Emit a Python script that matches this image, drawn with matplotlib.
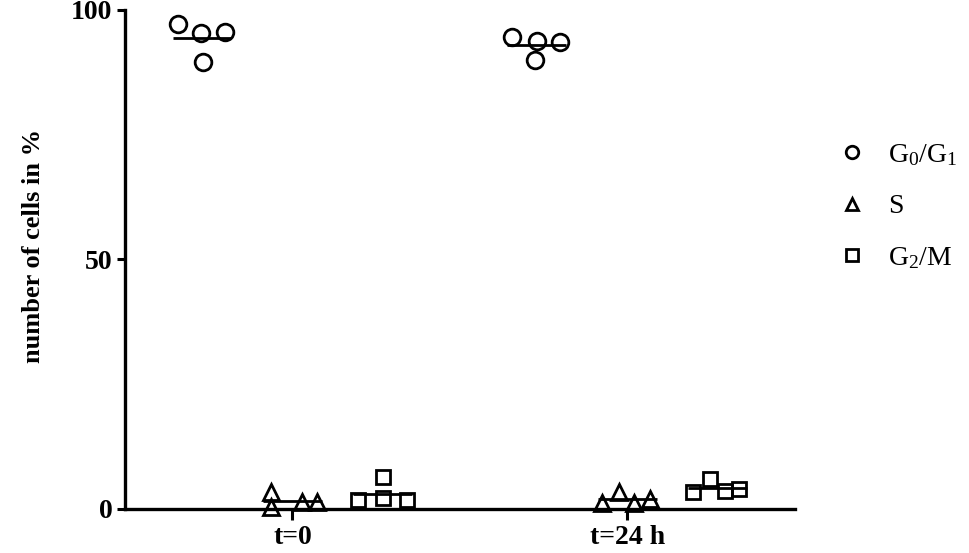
import matplotlib
matplotlib.use("Agg")
import matplotlib.pyplot as plt
from matplotlib.lines import Line2D
import numpy as np

# Data (percent of cells)
time_labels = ["t=0", "t=24 h"]
phase_labels = [r"G$_0$/G$_1$", "S", r"G$_2$/M"]
phase_markers = ["o", "^", "s"]

g0g1_t0 = [97.2, 95.4, 89.6, 95.6]
s_t0 = [3.4, 0.4, 1.4, 1.4]
g2m_t0 = [1.8, 6.4, 2.2, 1.8]
g0g1_t24 = [94.6, 93.8, 90.0, 93.6]
s_t24 = [1.2, 3.4, 1.2, 2.0]
g2m_t24 = [3.4, 6.0, 3.6, 4.0]

# horizontal spread of the points inside each column (layout only)
spread_g0g1_t0 = [-0.071, -0.003, 0.003, 0.068]
spread_s_t0 = [-0.065, -0.065, 0.030, 0.074]
spread_g2m_t0 = [-0.074, 0.0, 0.0, 0.071]
spread_g0g1_t24 = [-0.074, 0.0, -0.006, 0.068]
spread_s_t24 = [-0.074, -0.024, 0.021, 0.068]
spread_g2m_t24 = [-0.074, -0.024, 0.021, 0.065]

groups = [
    [g0g1_t0, s_t0, g2m_t0],
    [g0g1_t24, s_t24, g2m_t24],
]
spreads = [
    [spread_g0g1_t0, spread_s_t0, spread_g2m_t0],
    [spread_g0g1_t24, spread_s_t24, spread_g2m_t24],
]
phase_offset = [-0.27, 0.0, 0.27]
marker_sizes = [12, 11.5, 10.5]

plt.rcParams["font.family"] = ["Liberation Serif", "DejaVu Serif"]
plt.rcParams["mathtext.fontset"] = "custom"
plt.rcParams["mathtext.rm"] = "Liberation Serif"
plt.rcParams["mathtext.it"] = "Liberation Serif"

fig = plt.figure(figsize=(9.69, 5.53), dpi=100)
ax = fig.add_axes([0.129, 0.080, 0.691, 0.902])

for i, time_groups in enumerate(groups):
    for j, values in enumerate(time_groups):
        center = i + phase_offset[j]
        xs = center + np.array(spreads[i][j])
        ax.plot(xs, values, linestyle="none", marker=phase_markers[j],
                markersize=marker_sizes[j], markerfacecolor="none",
                markeredgecolor="black", markeredgewidth=2.0,
                clip_on=False, zorder=3)
        # mean line
        m = np.mean(values)
        ax.plot([center - 0.088, center + 0.088], [m, m], color="black",
                linewidth=2.0, solid_capstyle="butt", clip_on=False, zorder=2)

ax.set_xlim(-0.5, 1.5)
ax.set_ylim(0, 100)

ax.set_xticks([0, 1])
ax.set_xticklabels(time_labels, fontsize=20, fontweight="bold")
ax.set_yticks([0, 50, 100])
ax.set_yticklabels(["0", "50", "100"], fontsize=20, fontweight="bold")
ax.set_ylabel("number of cells in %", fontsize=19, fontweight="bold")
ax.yaxis.set_label_coords(-0.120, 0.527)

for side in ["top", "right"]:
    ax.spines[side].set_visible(False)
for side in ["left", "bottom"]:
    ax.spines[side].set_linewidth(2.4)
    ax.spines[side].set_capstyle("projecting")

ax.tick_params(axis="y", length=6, width=2.2, pad=3)
ax.tick_params(axis="x", length=8, width=2.2, pad=4)

# legend on the right
handles = [Line2D([], [], linestyle="none", marker=mk, markersize=9,
                  markerfacecolor="none", markeredgecolor="black",
                  markeredgewidth=2.0) for mk in phase_markers]
ax.legend(handles, phase_labels, loc="upper left",
          bbox_to_anchor=(0.865, 0.743), bbox_transform=fig.transFigure,
          frameon=False, fontsize=20, handlelength=1.0, handletextpad=0.8,
          labelspacing=0.93, borderpad=0, borderaxespad=0)

fig.savefig("out.png", dpi=100)
